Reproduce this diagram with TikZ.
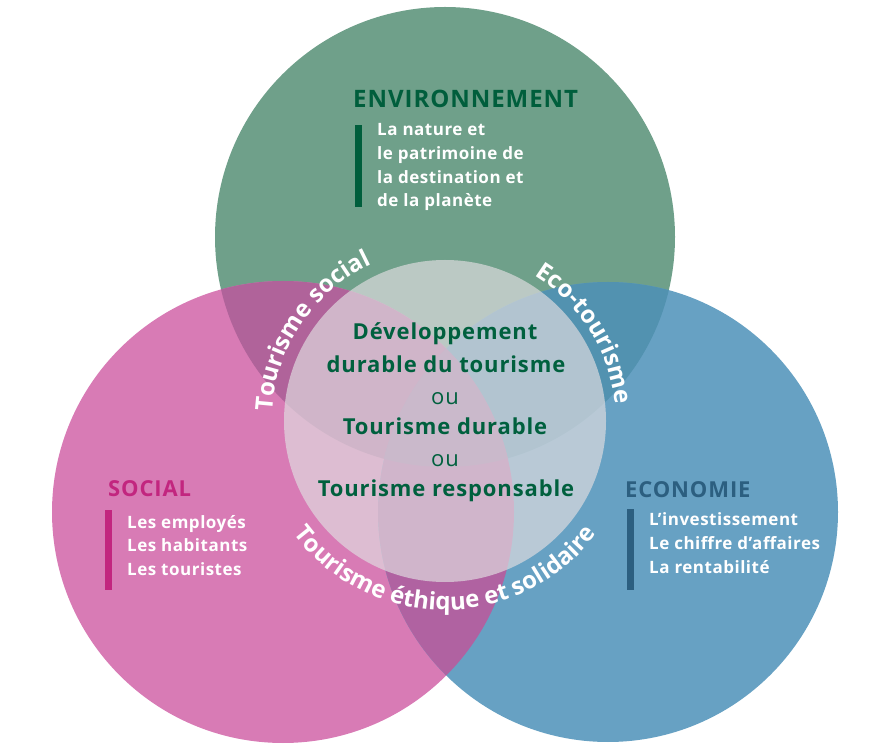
\documentclass[tikz,border=0pt]{standalone}
\usepackage{fontspec}
\setmainfont{Open Sans}
\newfontfamily\lsenv[LetterSpace=4]{Open Sans}
\newfontfamily\lstitle[LetterSpace=4]{Open Sans}
\newfontfamily\lsmid[LetterSpace=4]{Open Sans}
\newfontfamily\lsitem[LetterSpace=3]{Open Sans}
\usetikzlibrary{decorations.text,calc}
\definecolor{cgreen}{HTML}{6FA08A}
\definecolor{cpink}{HTML}{D87BB5}
\definecolor{cblue}{HTML}{67A1C3}
\definecolor{cpg}{HTML}{B0639A}
\definecolor{cgb}{HTML}{5292B0}
\definecolor{cpb}{HTML}{B062A1}
\definecolor{ctri}{HTML}{9E6EA0}
\definecolor{cover}{HTML}{E0DDE0}
\definecolor{envcol}{HTML}{005E3C}
\definecolor{soccol}{HTML}{C2267F}
\definecolor{ecocol}{HTML}{2C5F80}
\definecolor{midcol}{HTML}{00603E}
\tikzset{
  envtitle/.style={anchor=base west, inner sep=0pt, font=\lsenv\bfseries\fontsize{24}{24}\selectfont},
  title/.style={anchor=base west, inner sep=0pt, font=\lstitle\bfseries\fontsize{22}{22}\selectfont},
  item/.style={anchor=base west, inner sep=0pt, text=white, font=\lsitem\bfseries\fontsize{17}{20}\selectfont},
  mid/.style={anchor=base, inner sep=0pt, text=midcol, font=\lsmid\bfseries\fontsize{22}{22}\selectfont},
  midou/.style={anchor=base, inner sep=0pt, text=midcol, font=\lsmid\fontsize{22}{22}\selectfont},
  arctext/.style={decorate, decoration={text along path, text align=center,
    text={|\color{white}\bfseries\fontsize{24}{24}\selectfont|#1}}},
}
\begin{document}
\begin{tikzpicture}[x=1pt,y=1pt]
\useasboundingbox (0,0) rectangle (875,750);
\coordinate (G) at (445,513);
\coordinate (P) at (283,238);
\coordinate (B) at (608,238);
\coordinate (C) at (445,329);
% circles
\fill[cgreen] (G) circle (230pt);
\fill[cpink] (P) circle (231pt);
\fill[cblue] (B) circle (230pt);
\begin{scope}
  \clip (G) circle (230pt);
  \fill[cpg] (P) circle (231pt);
\end{scope}
\begin{scope}
  \clip (G) circle (230pt);
  \fill[cgb] (B) circle (230pt);
\end{scope}
\begin{scope}
  \clip (P) circle (231pt);
  \fill[cpb] (B) circle (230pt);
\end{scope}
\begin{scope}
  \clip (P) circle (231pt);
  \clip (B) circle (230pt);
  \fill[ctri] (G) circle (230pt);
\end{scope}
\fill[cover, opacity=0.68] (C) circle (161pt);
% bars
\fill[envcol] (355,625) rectangle (362,543);
\fill[soccol] (105,240) rectangle (112,160);
\fill[ecocol] (627,241) rectangle (634,160);
% environment
\node[envtitle, text=envcol] (envt) at (353,642) {ENVIRONNEMENT};
\node[item] (e1) at (377,614) {La nature et};
\node[item] (e2) at (377,590.4) {le patrimoine de};
\node[item] (e3) at (377,566.8) {la destination et};
\node[item] (e4) at (377,543.2) {de la planète};
% social
\node[title, text=soccol] (soct) at (108,253) {SOCIAL};
\node[item] (s1) at (127,222) {Les employés};
\node[item] (s2) at (127,198.5) {Les habitants};
\node[item] (s3) at (127,175) {Les touristes};
% economie
\node[title, text=ecocol] (ecot) at (625,252) {ECONOMIE};
\node[item] (c1) at (649,224) {L’investissement};
\node[item] (c2) at (649,200.5) {Le chiffre d’affaires};
\node[item] (c3) at (649,177) {La rentabilité};
% centre
\node[mid] (m1) at (445,410) {Développement};
\node[mid] (m2) at (446,377) {durable du tourisme};
\node[midou] (m3) at (445,345) {ou};
\node[mid] (m4) at (445,315) {Tourisme durable};
\node[midou] (m5) at (445,283) {ou};
\node[mid] (m6) at (446,253) {Tourisme responsable};
% arc labels
\path[arctext={Tourisme social}]
  ($(C)+(190:173pt)$) arc[start angle=190, end angle=102, radius=173pt];
\path[arctext={Eco-tourisme}]
  ($(C)+(70:171pt)$) arc[start angle=70, end angle=-6, radius=171pt];
\path[arctext={Tourisme éthique et solidaire}]
  ($(C)+(200:189pt)$) arc[start angle=200, end angle=340, radius=189pt];
\end{tikzpicture}
\end{document}
